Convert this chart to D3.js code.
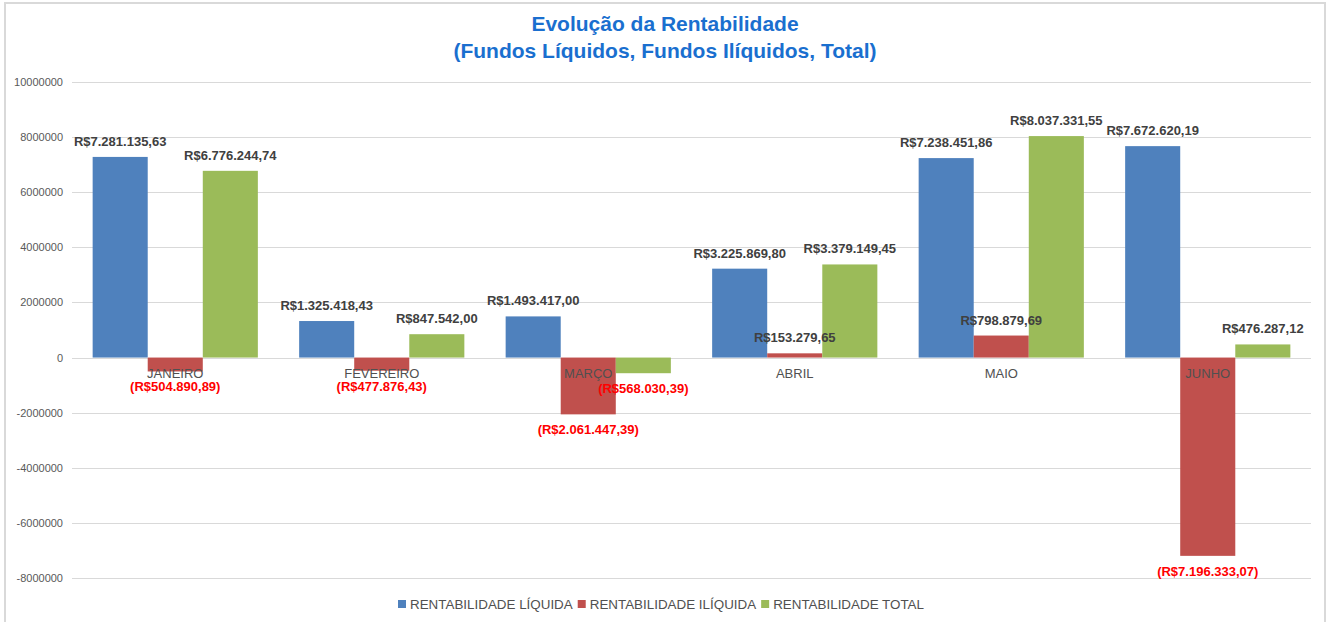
<!DOCTYPE html>
<html>
<head>
<meta charset="utf-8">
<script src="https://cdn.jsdelivr.net/npm/d3@7"></script>
<style>
  body { margin: 0; background: #fff; }
  svg { display: block; font-family: "Liberation Sans", Arial, sans-serif; }
</style>
</head>
<body>
<svg id="chart" width="1330" height="622"></svg>
<script>
// data
var meses = ["JANEIRO", "FEVEREIRO", "MARÇO", "ABRIL", "MAIO", "JUNHO"];
var rentLiquida = [7281135.63, 1325418.43, 1493417.00, 3225869.80, 7238451.86, 7672620.19];
var rentIliquida = [-504890.89, -477876.43, -2061447.39, 153279.65, 798879.69, -7196333.07];
var rentTotal = [6776244.74, 847542.00, -568030.39, 3379149.45, 8037331.55, 476287.12];
var nomesSeries = ["RENTABILIDADE LÍQUIDA", "RENTABILIDADE ILÍQUIDA", "RENTABILIDADE TOTAL"];
var yTicks = [-8000000, -6000000, -4000000, -2000000, 0, 2000000, 4000000, 6000000, 8000000, 10000000];

var cores = ["#4F81BD", "#C0504D", "#9BBB59"];
var series = [rentLiquida, rentIliquida, rentTotal];

var svg = d3.select("#chart");

// frame
svg.append("rect")
    .attr("x", 5).attr("y", 3)
    .attr("width", 1320).attr("height", 640)
    .attr("fill", "none")
    .attr("stroke", "#d9d9d9")
    .attr("stroke-width", 2);

// title
var titulo = svg.append("text")
    .attr("text-anchor", "middle")
    .attr("fill", "#1A6FCF")
    .attr("font-weight", "bold")
    .attr("font-size", "21px");
titulo.append("tspan").attr("x", 665).attr("y", 31).text("Evolução da Rentabilidade");
titulo.append("tspan").attr("x", 665).attr("y", 58).text("(Fundos Líquidos, Fundos Ilíquidos, Total)");

// scales
var x0 = d3.scaleBand()
    .domain(meses)
    .range([72, 1311])
    .paddingInner(0.2)
    .paddingOuter(0.1);
var x1 = d3.scaleBand()
    .domain([0, 1, 2])
    .range([0, x0.bandwidth()]);
var y = d3.scaleLinear()
    .domain([-8000000, 10000000])
    .range([578, 82]);

// gridlines
svg.append("g").selectAll("line")
    .data(yTicks)
    .enter().append("line")
    .attr("x1", 72).attr("x2", 1311)
    .attr("y1", function(d) { return Math.round(y(d)) + 0.5; })
    .attr("y2", function(d) { return Math.round(y(d)) + 0.5; })
    .attr("stroke", "#d9d9d9")
    .attr("stroke-width", 1);

// y axis (labels only), hyphen as minus like the original
var br = d3.formatLocale({decimal: ",", thousands: ".", grouping: [3], currency: ["R$", ""], minus: "-"});
var axisY = d3.axisLeft(y)
    .tickValues(yTicks)
    .tickFormat(br.format("d"))
    .tickSize(0)
    .tickPadding(0);
var gy = svg.append("g")
    .attr("transform", "translate(63,0)")
    .call(axisY);
gy.select(".domain").remove();
gy.selectAll("text")
    .attr("fill", "#595959")
    .style("font-size", "11px")
    .style("font-family", "'Liberation Sans', Arial, sans-serif");

// bars
var linhas = [];
meses.forEach(function(m, i) {
    series.forEach(function(s, j) {
        linhas.push({mes: m, serie: j, valor: s[i]});
    });
});

svg.append("g").selectAll("rect")
    .data(linhas)
    .enter().append("rect")
    .attr("x", function(d) { return x0(d.mes) + x1(d.serie); })
    .attr("width", x1.bandwidth())
    .attr("y", function(d) { return y(Math.max(0, d.valor)); })
    .attr("height", function(d) { return Math.abs(y(d.valor) - y(0)); })
    .attr("fill", function(d) { return cores[d.serie]; });

// category labels
svg.append("g").selectAll("text")
    .data(meses)
    .enter().append("text")
    .attr("x", function(d) { return x0(d) + x0.bandwidth() / 2; })
    .attr("y", 378)
    .attr("text-anchor", "middle")
    .attr("fill", "#505050")
    .attr("font-size", "13px")
    .text(function(d) { return d; });

// data labels
var fmt = br.format("($,.2f");

svg.append("g").selectAll("text")
    .data(linhas)
    .enter().append("text")
    .attr("x", function(d) { return x0(d.mes) + x1(d.serie) + x1.bandwidth() / 2; })
    .attr("y", function(d) {
        return d.valor >= 0 ? y(d.valor) - 11 : y(d.valor) + 20;
    })
    .attr("text-anchor", "middle")
    .attr("font-weight", "bold")
    .attr("font-size", "13px")
    .attr("fill", function(d) { return d.valor >= 0 ? "#404040" : "#FF0000"; })
    .text(function(d) { return fmt(d.valor); });

// legend
var leg = svg.append("g");
var lx = 398;
nomesSeries.forEach(function(n, i) {
    leg.append("rect")
        .attr("x", lx).attr("y", 600)
        .attr("width", 8).attr("height", 8)
        .attr("fill", cores[i]);
    var t = leg.append("text")
        .attr("x", lx + 12).attr("y", 609)
        .attr("fill", "#505050")
        .attr("font-size", "13.4px")
        .text(n);
    lx = lx + 12 + t.node().getComputedTextLength() + 5;
});
</script>
</body>
</html>
